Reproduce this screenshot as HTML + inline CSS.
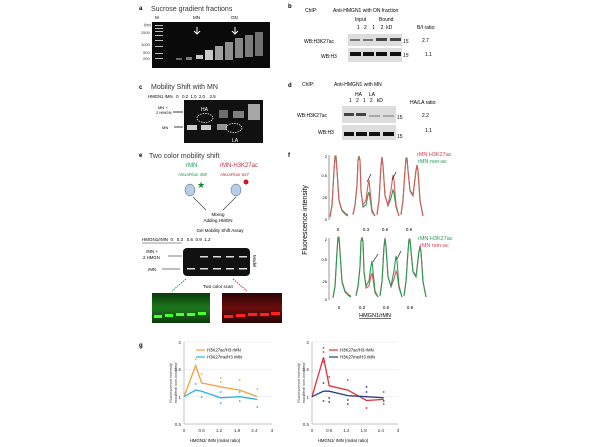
<!DOCTYPE html>
<html><head><meta charset="utf-8"><style>
html,body{margin:0;padding:0;background:#fff;}
svg{display:block;font-family:"Liberation Sans",Arial,sans-serif;}
</style></head><body>
<svg width="600" height="447" viewBox="0 0 600 447" xmlns="http://www.w3.org/2000/svg">
<defs>
<linearGradient id="gg" x1="0" y1="0" x2="0" y2="1"><stop offset="0" stop-color="#0a3a0a"/><stop offset="0.5" stop-color="#1d7a1d"/><stop offset="1" stop-color="#0c3a0c"/></linearGradient>
<linearGradient id="rg" x1="0" y1="0" x2="0" y2="1"><stop offset="0" stop-color="#2a0505"/><stop offset="0.5" stop-color="#6a0d0d"/><stop offset="1" stop-color="#2a0505"/></linearGradient>
</defs>
<rect width="600" height="447" fill="#fff"/>
<!-- a -->
<text x="139" y="10" font-size="6" font-weight="bold">a</text>
<text x="151" y="11" font-size="7" fill="#333">Sucrose gradient fractions</text>
<text x="155" y="19" font-size="4.5">M</text><text x="193" y="19" font-size="4.5">MN</text><text x="231" y="19" font-size="4.5">ON</text>
<rect x="152" y="22" width="118" height="46" fill="#0a0a0a"/>
<g fill="#bbb"><rect x="155" y="25" width="8" height="1"/><rect x="155" y="28" width="8" height="1"/><rect x="155" y="31" width="8" height="1"/><rect x="155" y="35" width="8" height="1"/><rect x="155" y="40" width="8" height="1"/><rect x="155" y="46" width="8" height="1"/><rect x="155" y="53" width="8" height="1"/><rect x="155" y="58" width="8" height="1"/></g>
<g font-size="4" fill="#333"><text x="144" y="26">(bp)</text><text x="141" y="34">2500</text><text x="141" y="46">1000</text><text x="143" y="54">500</text><text x="143" y="60">200</text></g>
<g fill="#ddd" opacity="0.9"><rect x="176" y="58" width="6" height="2" opacity="0.5"/><rect x="186" y="57" width="6" height="3" opacity="0.6"/><rect x="196" y="55" width="7" height="4"/><rect x="205" y="50" width="8" height="10"/><rect x="215" y="46" width="8" height="14" opacity="0.8"/><rect x="225" y="42" width="8" height="18" opacity="0.7"/><rect x="235" y="38" width="8" height="20" opacity="0.65"/><rect x="245" y="35" width="8" height="22" opacity="0.6"/><rect x="255" y="32" width="8" height="24" opacity="0.55"/></g>
<path d="M197 27 v6 M194 31 l3 3 l3 -3 M235 27 v6 M232 31 l3 3 l3 -3" stroke="#fff" stroke-width="1" fill="none"/>
<!-- b -->
<text x="288" y="8" font-size="6" font-weight="bold">b</text>
<text x="305" y="12" font-size="5">ChIP:</text><text x="333" y="12" font-size="5">Anti-HMGN1 with ON fraction</text>
<text x="355" y="21" font-size="5">Input</text><text x="379" y="21" font-size="5">Bound</text>
<text x="357" y="29" font-size="5">1&#160;&#160;&#160;2&#160;&#160;&#160;&#160;1&#160;&#160;&#160;&#160;2&#160;&#160;kD</text>
<text x="417" y="29" font-size="5">B/I ratio:</text>
<text x="304" y="43" font-size="5">WB:H3K27ac</text><text x="321" y="58" font-size="5">WB:H3</text>
<rect x="348" y="34" width="54" height="12" fill="#ddd"/><rect x="348" y="48" width="54" height="14" fill="#ddd"/>
<g fill="#777"><rect x="350" y="39" width="10" height="2"/><rect x="363" y="39" width="10" height="2"/></g>
<g fill="#444"><rect x="376" y="38" width="11" height="3"/><rect x="390" y="38" width="11" height="3"/></g>
<g fill="#111"><rect x="350" y="52" width="11" height="4"/><rect x="363" y="52" width="11" height="4"/><rect x="376" y="52" width="11" height="4"/><rect x="390" y="52" width="11" height="4"/></g>
<text x="403" y="43" font-size="5" font-style="italic">15</text><text x="403" y="57" font-size="5" font-style="italic">15</text>
<text x="422" y="42" font-size="5">2.7</text><text x="425" y="56" font-size="5">1.1</text>
<!-- c -->
<text x="139" y="89" font-size="6" font-weight="bold">c</text>
<text x="151" y="89" font-size="7" fill="#333">Mobility Shift with MN</text>
<text x="148" y="98" font-size="4.3">HMGN1 /MN&#160;&#160;&#160;0&#160;&#160;&#160;0.2&#160;&#160;1.0&#160;&#160;2.0&#160;&#160;&#160;&#160;2.5</text>
<rect x="184" y="100" width="79" height="43" fill="#111"/>
<g fill="#ccc"><rect x="187" y="125" width="10" height="5"/><rect x="201" y="125" width="10" height="5"/><rect x="217" y="124" width="10" height="6" opacity="0.7"/><rect x="219" y="110" width="9" height="8" opacity="0.5"/><rect x="233" y="111" width="11" height="7" opacity="0.6"/><rect x="248" y="104" width="12" height="16" opacity="0.8"/></g>
<ellipse cx="205" cy="118" rx="8" ry="4.5" fill="none" stroke="#fff" stroke-dasharray="1.5 1" stroke-width="0.7"/>
<ellipse cx="234" cy="128" rx="8" ry="4.5" fill="none" stroke="#fff" stroke-dasharray="1.5 1" stroke-width="0.7"/>
<text x="201" y="111" font-size="5" fill="#fff">HA</text><text x="232" y="142" font-size="5" fill="#fff">LA</text>
<text x="158" y="109" font-size="4">MN +</text><text x="156" y="114" font-size="4">2 HMGN</text><text x="162" y="129" font-size="4">MN</text>
<path d="M173 112 h10 M174 127 h9" stroke="#000" stroke-width="0.8"/>
<!-- d -->
<text x="288" y="87" font-size="6" font-weight="bold">d</text>
<text x="302" y="86" font-size="5">ChIP:</text><text x="334" y="86" font-size="5">Anti-HMGN1 with MN</text>
<text x="355" y="96" font-size="5">HA&#160;&#160;&#160;&#160;&#160;LA</text>
<text x="349" y="102" font-size="5">1&#160;&#160;&#160;2&#160;&#160;&#160;1&#160;&#160;&#160;2&#160;&#160;&#160;kD</text>
<text x="410" y="104" font-size="5">HA/LA ratio:</text>
<text x="297" y="117" font-size="5">WB:H3K27ac</text><text x="318" y="134" font-size="5">WB:H3</text>
<rect x="342" y="106" width="54" height="17" fill="#ddd"/><rect x="342" y="125" width="54" height="15" fill="#ddd"/>
<g fill="#444"><rect x="344" y="113" width="10" height="3"/><rect x="356" y="113" width="10" height="3"/></g>
<g fill="#aaa"><rect x="369" y="115" width="11" height="2"/><rect x="383" y="115" width="11" height="2"/></g>
<g fill="#111"><rect x="344" y="132" width="10" height="4"/><rect x="356" y="132" width="11" height="4"/><rect x="369" y="132" width="11" height="4"/><rect x="383" y="132" width="11" height="4"/></g>
<text x="397" y="119" font-size="5">15</text><text x="397" y="138" font-size="5">15</text>
<text x="422" y="117" font-size="5">2.2</text><text x="425" y="132" font-size="5">1.1</text>
<!-- e -->
<text x="139" y="157" font-size="6" font-weight="bold">e</text>
<text x="149" y="158" font-size="7" fill="#333">Two color mobility shift</text>
<text x="186" y="167" font-size="6" fill="#1a9a50">rMN</text>
<text x="220" y="167" font-size="6" fill="#c0303a">rMN-H3K27ac</text>
<text x="178" y="176" font-size="4.3" fill="#1a9a50" font-style="italic">AlexaFluor 488</text>
<text x="220" y="176" font-size="4.3" fill="#c0303a" font-style="italic">AlexaFluor 647</text>
<g fill="#b8cde8" stroke="#556" stroke-width="0.5"><ellipse cx="190" cy="190" rx="5" ry="6"/><ellipse cx="236" cy="190" rx="5" ry="6"/></g>
<text x="197" y="188" font-size="9" fill="#1a8a30">★</text>
<circle cx="246" cy="182" r="2.5" fill="#d0102a"/>
<path d="M193 197 l13 13 M236 197 l-13 13" stroke="#333" stroke-width="0.6"/>
<text x="218" y="216" font-size="4.5" text-anchor="middle">Mixing</text>
<text x="218" y="222" font-size="4.5" text-anchor="middle">Adding HMGN</text>
<text x="220" y="232" font-size="4.5" text-anchor="middle">Gel Mobility Shift Assay</text>
<text x="142" y="241" font-size="4.5">HMGN1/rMN&#160;&#160;0&#160;&#160;&#160;0.3&#160;&#160;&#160;0.6&#160;&#160;0.9&#160;&#160;1.2</text>
<line x1="142" y1="243" x2="182" y2="243" stroke="#000" stroke-width="0.4"/>
<rect x="183" y="248" width="67" height="28" rx="4" fill="#111"/>
<g fill="#ddd"><rect x="187" y="268" width="8" height="1.5"/><rect x="200" y="268" width="8" height="1.5"/><rect x="213" y="268" width="8" height="1.5"/><rect x="226" y="268" width="8" height="1.5"/><rect x="239" y="268" width="8" height="1.5"/><rect x="200" y="256" width="8" height="1.5"/><rect x="213" y="256" width="8" height="1.5"/><rect x="226" y="256" width="8" height="1.5"/><rect x="239" y="256" width="8" height="1.5"/></g>
<text x="146" y="253" font-size="4.3">rMN +</text><text x="143" y="259" font-size="4.3">2 HMGN</text><text x="148" y="271" font-size="4.3">rMN</text>
<path d="M168 256 h14 M162 269 h18" stroke="#000" stroke-width="0.6"/>
<text x="253" y="255" font-size="4.5" transform="rotate(90 253 255)">Model</text>
<text x="218" y="288" font-size="4.5" text-anchor="middle">Two color scan</text>
<path d="M186 279 l-14 12 M233 279 l14 12" stroke-dasharray="1.5 1" stroke-width="0.7" fill="none"/>
<path d="M186 279 l-14 12" stroke="#2a9a50" stroke-dasharray="1.5 1"/><path d="M233 279 l14 12" stroke="#d0303a" stroke-dasharray="1.5 1"/>
<rect x="152" y="293" width="58" height="30" fill="url(#gg)"/>
<rect x="222" y="293" width="60" height="30" fill="url(#rg)"/>
<g fill="#4cff30"><rect x="154" y="315" width="8" height="3"/><rect x="165" y="314" width="8" height="3"/><rect x="176" y="313" width="8" height="3"/><rect x="187" y="313" width="8" height="3"/><rect x="198" y="312" width="8" height="3"/></g>
<g fill="#ff2020"><rect x="224" y="315" width="9" height="3"/><rect x="236" y="314" width="9" height="3"/><rect x="248" y="313" width="9" height="3"/><rect x="260" y="313" width="9" height="3"/><rect x="271" y="312" width="9" height="3"/></g>
<!-- f -->
<text x="288" y="157" font-size="6" font-weight="bold">f</text>
<text x="307" y="220" font-size="7" text-anchor="middle" transform="rotate(-90 307 220)">Fluorescence intensity</text>
<g font-size="4" text-anchor="end"><text x="327" y="158">2</text><text x="327" y="177">0.5</text><text x="327" y="199">.25</text><text x="327" y="221">0</text>
<text x="327" y="241">2</text><text x="327" y="261">0.5</text><text x="327" y="283">.25</text><text x="327" y="301">0</text></g>
<path d="M329 155 V220 M329 238 V300" stroke="#555" stroke-width="0.6"/>
<g id="top" fill="none" stroke-width="1.1">
<path stroke="#2a9a55" d="M330 216 L332 205 L334 170 L335 156 L336 156 L337 170 L339 200 L342 210 L346 214 L348 215 M353 214 L355 205 L357 185 L358 160 L359 156 L360 160 L361 190 L363 207 L366 205 L368 195 L369 192 L370 198 L372 212 L375 216 M377 214 L379 200 L381 165 L382 157 L383 165 L385 195 L388 206 L391 198 L393 190 L394 193 L396 207 L399 216 M401 214 L403 200 L405 170 L406 158 L407 158 L408 170 L410 190 L413 195 L416 170 L417 165 L418 170 L420 200 L423 216"/>
<path stroke="#d95a5a" d="M330 217 L332 206 L334 171 L335 157 L336 157 L337 171 L339 201 L342 211 L346 215 L348 216 M353 215 L355 206 L357 186 L358 161 L359 157 L360 161 L361 191 L363 205 L366 200 L368 185 L369 180 L370 190 L372 210 L375 216 M377 215 L379 201 L381 166 L382 158 L383 166 L385 196 L388 205 L391 190 L393 175 L394 180 L396 205 L399 216 M401 215 L403 201 L405 171 L406 159 L407 159 L408 171 L410 191 L413 196 L416 171 L417 166 L418 171 L420 201 L423 216"/>
</g>
<g transform="translate(3 81)" fill="none" stroke-width="1.1">
<path stroke="#d95a5a" d="M330 216 L332 205 L334 170 L335 156 L336 156 L337 170 L339 200 L342 210 L346 214 L348 215 M353 214 L355 205 L357 185 L358 160 L359 156 L360 160 L361 190 L363 207 L366 205 L368 195 L369 192 L370 198 L372 212 L375 216 M377 214 L379 200 L381 165 L382 157 L383 165 L385 195 L388 206 L391 198 L393 190 L394 193 L396 207 L399 216 M401 214 L403 200 L405 170 L406 158 L407 158 L408 170 L410 190 L413 195 L416 170 L417 165 L418 170 L420 200 L423 216"/>
<path stroke="#2a9a55" d="M330 217 L332 206 L334 171 L335 157 L336 157 L337 171 L339 201 L342 211 L346 215 L348 216 M353 215 L355 206 L357 186 L358 161 L359 157 L360 161 L361 191 L363 205 L366 200 L368 185 L369 180 L370 190 L372 210 L375 216 M377 215 L379 201 L381 166 L382 158 L383 166 L385 196 L388 205 L391 190 L393 175 L394 180 L396 205 L399 216 M401 215 L403 201 L405 171 L406 159 L407 159 L408 171 L410 191 L413 196 L416 171 L417 166 L418 171 L420 201 L423 216"/>
</g>
<path d="M371 174 l-4 8 M396 172 l-4 8 M378 254 l-5 8 M401 251 l-4 8" stroke="#222" stroke-width="0.7"/>
<g font-size="4.5" text-anchor="middle"><text x="338" y="231">0</text><text x="366" y="231">0.3</text><text x="385" y="231">0.6</text><text x="409" y="231">0.9</text>
<text x="339" y="309">0</text><text x="362" y="309">0.3</text><text x="386" y="309">0.6</text><text x="410" y="309">0.9</text></g>
<text x="375" y="317" font-size="5.5" text-anchor="middle" text-decoration="underline">HMGN1/rMN</text>
<text x="417" y="156" font-size="5.5" fill="#d04050">rMN H3K27ac</text><text x="418" y="163" font-size="5.5" fill="#2a9a55">rMN non-ac</text>
<text x="418" y="240" font-size="5.5" fill="#2a9a55">rMN H3K27ac</text><text x="420" y="247" font-size="5.5" fill="#d04050">rMN non-ac</text>
<!-- g -->
<text x="139" y="347" font-size="6" font-weight="bold">g</text>
<g stroke="#ddd" stroke-width="0.4"><path d="M184 342 H272 M184 369.4 H272 M184 396.7 H272 M312 342 H398 M312 369.4 H398 M312 396.7 H398"/></g>
<path d="M184 342 V424 H272 M312 342 V424 H398" stroke="#888" stroke-width="0.5" fill="none"/>
<g font-size="4.5" text-anchor="end" fill="#333"><text x="181" y="344">2</text><text x="181" y="371">1.5</text><text x="181" y="399">1</text><text x="181" y="426">0.5</text>
<text x="309" y="344">2</text><text x="309" y="371">1.5</text><text x="309" y="399">1</text><text x="309" y="426">0.5</text></g>
<g font-size="4.5" text-anchor="middle" fill="#333"><text x="184" y="432">0</text><text x="201.6" y="432">0.6</text><text x="219" y="432">1.2</text><text x="237" y="432">1.8</text><text x="254.4" y="432">2.4</text><text x="272" y="432">3</text>
<text x="312" y="432">0</text><text x="329.2" y="432">0.6</text><text x="346.4" y="432">1.2</text><text x="363.6" y="432">1.8</text><text x="380.8" y="432">2.4</text><text x="398" y="432">3</text></g>
<text x="215" y="442" font-size="4.3" text-anchor="middle">HMGN2/ rMN (molar ratio)</text>
<text x="343" y="442" font-size="4.3" text-anchor="middle">HMGN1/ rMN (molar ratio)</text>
<g font-size="4" text-anchor="middle" font-style="italic" fill="#444"><text transform="translate(172 383) rotate(-90)">Fluorescence intensity</text><text transform="translate(177 383) rotate(-90)">modified/ non-modified</text>
<text transform="translate(300 383) rotate(-90)">Fluorescence intensity</text><text transform="translate(305 383) rotate(-90)">modified/ non-modified</text></g>
<polyline points="184,396.7 195.7,365.5 201.6,383 220.7,386.9 239.7,390.1 257.3,396.7" fill="none" stroke="#f0a040" stroke-width="1.3"/>
<polyline points="184,396.7 195.7,390.1 201.6,391.2 220.7,397.8 239.7,396.7 257.3,399.4" fill="none" stroke="#30b0e0" stroke-width="1.3"/>
<g fill="#f0a040"><circle cx="195.7" cy="359" r="0.9"/><circle cx="201.6" cy="374" r="0.9"/><circle cx="220.7" cy="378" r="0.9"/><circle cx="220.7" cy="382" r="0.9"/><circle cx="239.7" cy="380" r="0.9"/><circle cx="257.3" cy="389" r="0.9"/></g>
<g fill="#30b0e0"><circle cx="195.7" cy="384" r="0.9"/><circle cx="201.6" cy="397" r="0.9"/><circle cx="220.7" cy="392" r="0.9"/><circle cx="220.7" cy="403" r="0.9"/><circle cx="239.7" cy="392" r="0.9"/><circle cx="239.7" cy="401" r="0.9"/><circle cx="257.3" cy="407" r="0.9"/></g>
<line x1="196" y1="350" x2="205" y2="350" stroke="#f0a040" stroke-width="1.2"/><text x="207" y="351.5" font-size="4.3">H3K27ac/H3 rMN</text>
<line x1="196" y1="357" x2="205" y2="357" stroke="#30b0e0" stroke-width="1.2"/><text x="207" y="358.5" font-size="4.3">H3K27me/H3 rMN</text>
<polyline points="312,396.7 323.5,357.3 329.2,385.8 347.8,390.1 366.5,400.5 383.7,399.4" fill="none" stroke="#e0303a" stroke-width="1.3"/>
<polyline points="312,396.7 323.5,391.2 329.2,391.2 347.8,395.6 366.5,396.7 383.7,397.8" fill="none" stroke="#303a80" stroke-width="1.3"/>
<g fill="#e0303a"><circle cx="323.5" cy="348" r="0.9"/><circle cx="323.5" cy="352" r="0.9"/><circle cx="323.5" cy="362" r="0.9"/><circle cx="329.2" cy="377" r="0.9"/><circle cx="347.8" cy="380" r="0.9"/><circle cx="366.5" cy="408" r="0.9"/><circle cx="383.7" cy="404" r="0.9"/><circle cx="383.7" cy="392" r="0.9"/></g>
<g fill="#303a80"><circle cx="323.5" cy="383" r="0.9"/><circle cx="323.5" cy="401" r="0.9"/><circle cx="329.2" cy="398" r="0.9"/><circle cx="329.2" cy="402" r="0.9"/><circle cx="347.8" cy="400" r="0.9"/><circle cx="347.8" cy="404" r="0.9"/><circle cx="366.5" cy="387" r="0.9"/><circle cx="366.5" cy="392" r="0.9"/><circle cx="383.7" cy="401" r="0.9"/></g>
<line x1="329" y1="350" x2="338" y2="350" stroke="#e0303a" stroke-width="1.2"/><text x="340" y="351.5" font-size="4.3">H3K27ac/H3 rMN</text>
<line x1="329" y1="357" x2="338" y2="357" stroke="#303a80" stroke-width="1.2"/><text x="340" y="358.5" font-size="4.3">H3K27me/H3 rMN</text>
</svg>
</body></html>
